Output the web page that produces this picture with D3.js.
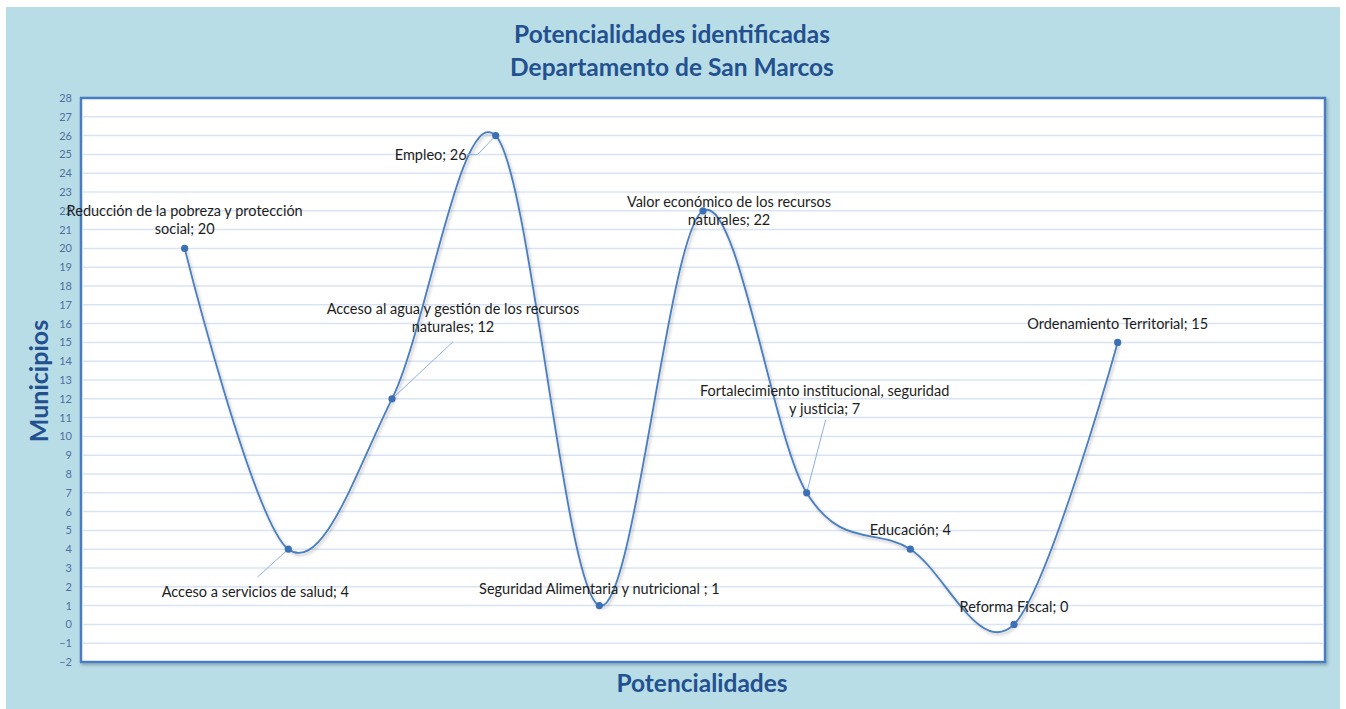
<!DOCTYPE html>
<html>
<head>
<meta charset="utf-8">
<script src="https://cdn.jsdelivr.net/npm/d3@7"></script>
<style>
  html, body { margin: 0; padding: 0; background: #fff; }
  svg { display: block; }
</style>
</head>
<body>
<div id="chart"></div>
<script>
// data
const categories = [
  "Reducción de la pobreza y protección social",
  "Acceso a servicios de salud",
  "Acceso al agua y gestión de los recursos naturales",
  "Empleo",
  "Seguridad Alimentaria y nutricional ",
  "Valor económico de los recursos naturales",
  "Fortalecimiento institucional, seguridad y justicia",
  "Educación",
  "Reforma Fiscal",
  "Ordenamiento Territorial"
];
const municipios = [20, 4, 12, 26, 1, 22, 7, 4, 0, 15];
const yTicks = d3.range(-2, 29, 1);

// label layout: offset of label from point, words on first line (0 = one line), leader line
const labelLayout = [
  { dx: 0, dy: -32, split: 6, leader: null },
  { dx: -33, dy: 48, split: 0, leader: [[-31, 28]] },
  { dx: 61, dy: -85, split: 8, leader: [[61, -57]] },
  { dx: -65, dy: 24, split: 0, leader: [[-18, 19], [-29, 19]] },
  { dx: 0, dy: -12, split: 0, leader: null },
  { dx: 26, dy: -4, split: 5, leader: null },
  { dx: 18, dy: -97, split: 3, leader: [[19, -73]] },
  { dx: 0, dy: -14, split: 0, leader: null },
  { dx: 0, dy: -12, split: 0, leader: null },
  { dx: 0, dy: -13, split: 0, leader: null }
];

const width = 1346;
const height = 709;
const margin = { top: 98, right: 21, bottom: 47, left: 81 };

const svg = d3.select("#chart").append("svg")
  .attr("width", width)
  .attr("height", height)
  .style("font-family", "Lato, 'Open Sans', sans-serif");

const defs = svg.append("defs");
const shadow = defs.append("filter").attr("id", "shadow")
  .attr("x", "-5%").attr("y", "-5%").attr("width", "110%").attr("height", "110%");
shadow.append("feDropShadow")
  .attr("dx", 1.5).attr("dy", 2).attr("stdDeviation", 1.5)
  .attr("flood-color", "#000").attr("flood-opacity", 0.25);

// outer panel
svg.append("rect")
  .attr("x", 6).attr("y", 7)
  .attr("width", 1334).attr("height", 702)
  .attr("fill", "#b8dde7");

const x = d3.scaleLinear()
  .domain([-1, categories.length + 1])
  .range([margin.left, width - margin.right]);

const y = d3.scaleLinear()
  .domain([-2, 28])
  .range([height - margin.bottom, margin.top]);

// plot area
svg.append("rect")
  .attr("x", margin.left).attr("y", margin.top)
  .attr("width", width - margin.left - margin.right)
  .attr("height", height - margin.top - margin.bottom)
  .attr("fill", "#fff")
  .attr("stroke", "#4a7cc0")
  .attr("stroke-width", 2.5)
  .attr("filter", "url(#shadow)");

// gridlines
svg.append("g")
  .selectAll("line")
  .data(yTicks.filter(d => d > -2 && d < 28))
  .join("line")
  .attr("x1", margin.left + 2).attr("x2", width - margin.right - 2)
  .attr("y1", d => y(d)).attr("y2", d => y(d))
  .attr("stroke", "#d8e4f4")
  .attr("stroke-width", 1.5);

// y axis
const yAxis = svg.append("g")
  .attr("transform", `translate(${margin.left},0)`)
  .call(d3.axisLeft(y).tickValues(yTicks).tickSize(0).tickPadding(9));
yAxis.select(".domain").remove();
yAxis.selectAll("text")
  .attr("fill", "#4f6f9f")
  .style("font-size", "11px")
  .style("font-family", "Lato, 'Open Sans', sans-serif");

// titles
const title = svg.append("text")
  .attr("x", 672).attr("text-anchor", "middle")
  .attr("fill", "#23508e")
  .style("font-size", "24.5px").style("font-weight", "bold");
title.append("tspan").attr("x", 672).attr("y", 43).text("Potencialidades identificadas");
title.append("tspan").attr("x", 672).attr("y", 76).text("Departamento de San Marcos");

svg.append("text")
  .attr("x", 702).attr("y", 692)
  .attr("text-anchor", "middle")
  .attr("fill", "#23508e")
  .style("font-size", "24.5px").style("font-weight", "bold")
  .text("Potencialidades");

svg.append("text")
  .attr("transform", `translate(48,${381}) rotate(-90)`)
  .attr("text-anchor", "middle")
  .attr("fill", "#23508e")
  .style("font-size", "25px").style("font-weight", "bold")
  .text("Municipios");

// smooth line
const line = d3.line()
  .x((d, i) => x(i))
  .y(d => y(d))
  .curve(d3.curveCardinal.tension(0));

svg.append("path")
  .datum(municipios)
  .attr("d", line)
  .attr("fill", "none")
  .attr("stroke", "#4a7ebf")
  .attr("stroke-width", 1.8)
  .attr("filter", "url(#shadow)");

// leader lines
svg.append("g")
  .selectAll("polyline")
  .data(municipios.map((v, i) => ({ v, i, lay: labelLayout[i] })).filter(d => d.lay.leader))
  .join("polyline")
  .attr("points", d => [[0, 0], ...d.lay.leader]
    .map(p => [x(d.i) + p[0], y(d.v) + p[1]].join(",")).join(" "))
  .attr("fill", "none")
  .attr("stroke", "#8db2e0")
  .attr("stroke-width", 1);

// markers
svg.append("g")
  .selectAll("circle")
  .data(municipios)
  .join("circle")
  .attr("cx", (d, i) => x(i))
  .attr("cy", d => y(d))
  .attr("r", 3.6)
  .attr("fill", "#3b70b6");

// data labels
const labels = svg.append("g")
  .selectAll("text")
  .data(municipios.map((v, i) => ({ v, i, name: categories[i], lay: labelLayout[i] })))
  .join("text")
  .attr("text-anchor", "middle")
  .attr("fill", "#1c1c1c")
  .style("font-size", "14.5px");

labels.each(function (d) {
  const full = `${d.name}; ${d.v}`;
  const words = full.split(" ");
  const lines = d.lay.split ? [words.slice(0, d.lay.split).join(" "), words.slice(d.lay.split).join(" ")] : [full];
  const cx = x(d.i) + d.lay.dx;
  const by = y(d.v) + d.lay.dy;
  lines.forEach((t, k) => {
    d3.select(this).append("tspan")
      .attr("x", cx)
      .attr("y", by + k * 18)
      .text(t);
  });
});
</script>
</body>
</html>
